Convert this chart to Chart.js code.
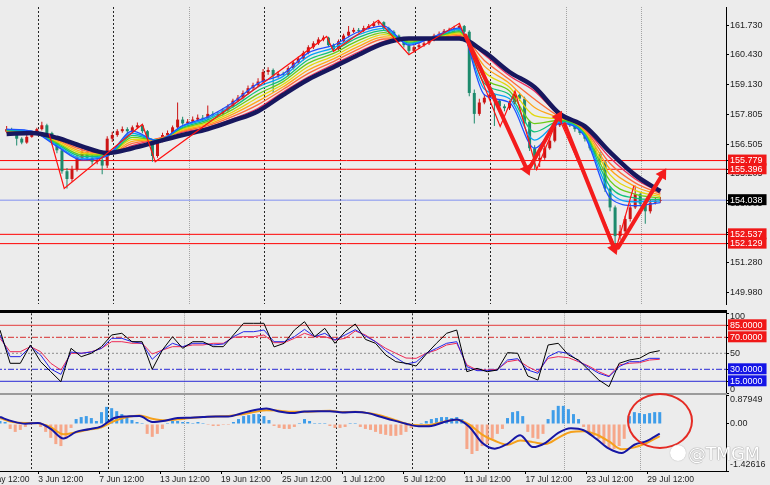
<!DOCTYPE html>
<html>
<head>
<meta charset="utf-8">
<script src="https://cdn.jsdelivr.net/npm/chart.js@4.4.1/dist/chart.umd.min.js"></script>
<style>
  html, body { margin:0; padding:0; }
  body { width:770px; height:485px; background:#ececec; position:relative; overflow:hidden; }
  .pane { position:absolute; left:-40px; width:810px; }
  #pMain { top:0; height:311px; }
  #pRsi { top:310px; height:88px; }
  #pMacd { top:393px; height:92px; }
  .rule { position:absolute; left:0; width:727px; z-index:5; }
  #ruleTop { top:310px; height:3px; background:#000; }
  #ruleMid { top:393px; height:2px; background:#9b9b9b; }
  #ellipse { position:absolute; left:627px; top:393px; width:62px; height:52px; border:2px solid #e52b24; border-radius:50%; z-index:6; }
  #wm { position:absolute; left:688px; top:443px; font:18px 'DejaVu Sans', sans-serif; color:#fff; text-shadow:0 0 1px #8a8a8a, 0 0 1px #8a8a8a; z-index:7; letter-spacing:-0.5px; }
  #wmLogo { position:absolute; left:670px; top:445px; width:16px; height:16px; border-radius:50%; background:#fff; box-shadow:0 0 1px #999; z-index:7; }
</style>
</head>
<body>
<div class="pane" id="pMain"><canvas id="cMain"></canvas></div>
<div class="pane" id="pRsi"><canvas id="cRsi"></canvas></div>
<div class="pane" id="pMacd"><canvas id="cMacd"></canvas></div>
<div class="rule" id="ruleTop"></div>
<div class="rule" id="ruleMid"></div>
<div id="ellipse"></div>
<div id="wmLogo"></div>
<div id="wm">@TMGM</div>
<script>
// ================= DATA =================
// x unit = one H4 bar
const CANDLE_STEP = 2;   // bars per candle sample
const candleOpen = [
157.05,157.16,157.07,156.74,156.57,156.82,156.99,157.16,157.33,156.99,
156.57,156.23,155.31,154.97,155.39,155.90,156.15,155.90,155.73,155.81,
155.56,156.74,156.90,157.07,157.16,157.07,157.24,157.33,157.07,156.65,
155.98,156.65,156.90,156.99,157.24,157.58,157.41,157.49,157.58,157.66,
157.62,157.83,157.79,157.83,157.99,158.16,158.41,158.54,158.75,158.96,
159.09,159.25,159.67,159.76,159.51,159.59,159.55,159.84,160.09,160.26,
160.51,160.76,160.93,161.10,161.18,160.85,160.68,161.02,161.27,161.44,
161.52,161.48,161.60,161.69,161.81,161.86,161.60,161.44,161.27,161.10,
160.85,160.60,160.76,160.85,160.93,161.10,161.27,161.35,161.48,161.52,
161.60,161.69,161.44,158.75,157.83,158.33,158.54,158.67,158.41,158.16,
158.08,158.33,158.67,158.50,157.49,156.32,155.81,155.90,156.32,156.65,
157.33,157.58,157.49,157.33,157.16,156.99,156.74,156.32,156.07,155.73,
154.55,153.72,152.46,152.67,153.21,153.72,154.30,153.88,153.55,153.93,154.01];
const candleHigh = [
157.30,157.22,157.12,156.80,156.90,157.08,157.22,157.49,157.40,157.05,
156.62,156.28,155.45,155.55,156.05,156.35,156.28,156.02,156.00,155.90,
156.85,157.05,157.15,157.28,157.24,157.32,157.45,157.38,157.12,156.70,
156.72,157.00,157.10,157.32,158.33,157.70,157.60,157.72,157.80,157.78,
158.20,157.95,157.92,158.08,158.25,158.50,158.66,158.86,159.08,159.20,
159.40,159.80,159.88,159.82,159.70,159.68,159.92,160.18,160.35,160.60,
160.85,161.02,161.20,161.28,161.22,160.92,161.10,161.35,161.69,161.62,
161.60,161.70,161.78,161.90,161.94,161.90,161.66,161.50,161.32,161.15,
160.92,160.85,160.95,161.02,161.18,161.35,161.45,161.56,161.62,161.70,
161.81,161.74,161.50,158.90,158.50,158.70,158.80,158.75,158.48,158.25,
158.42,158.83,158.76,158.58,157.55,156.45,156.10,156.45,156.78,157.45,
157.78,157.68,157.58,157.40,157.25,157.05,156.82,156.40,156.15,155.80,
154.65,153.80,152.95,153.35,153.90,154.68,154.40,153.95,154.05,154.15,154.18];
const candleLow = [
156.98,156.98,156.44,156.50,156.52,156.78,156.95,157.10,156.92,156.48,
156.10,155.20,154.55,154.85,155.30,155.82,155.78,155.60,155.62,155.18,
155.45,156.60,156.82,157.00,156.98,157.00,157.18,156.98,156.55,155.73,
155.90,156.58,156.82,156.92,157.18,157.35,157.32,157.42,157.52,157.55,
157.55,157.70,157.72,157.76,157.92,158.10,158.35,158.46,158.68,158.88,
159.02,159.18,159.55,158.75,159.42,159.48,159.48,159.78,160.02,160.18,
160.45,160.68,160.86,161.02,160.78,160.58,160.62,160.96,161.20,161.38,
161.40,161.42,161.55,161.62,161.72,161.52,161.36,161.20,161.02,160.75,
160.43,160.52,160.68,160.78,160.86,161.02,161.20,161.28,161.40,161.45,
161.52,161.35,158.60,157.41,157.75,158.25,158.45,157.30,158.05,157.95,
158.00,158.25,158.40,157.40,156.20,155.39,155.50,155.82,156.25,156.58,
157.25,157.38,157.25,157.05,156.90,156.62,156.22,155.95,155.60,154.40,
153.55,151.91,152.30,152.55,153.10,153.65,153.75,153.00,153.45,153.85,153.92];
const candleClose = [
157.16,157.07,156.74,156.57,156.82,156.99,157.16,157.33,156.99,156.57,
156.23,155.31,154.97,155.39,155.90,156.15,155.90,155.73,155.81,155.56,
156.74,156.90,157.07,157.16,157.07,157.24,157.33,157.07,156.65,155.98,
156.65,156.90,156.99,157.24,157.58,157.41,157.49,157.58,157.66,157.62,
157.83,157.79,157.83,157.99,158.16,158.41,158.54,158.75,158.96,159.09,
159.25,159.67,159.76,159.51,159.59,159.55,159.84,160.09,160.26,160.51,
160.76,160.93,161.10,161.18,160.85,160.68,161.02,161.27,161.44,161.52,
161.48,161.60,161.69,161.81,161.86,161.60,161.44,161.27,161.10,160.85,
160.60,160.76,160.85,160.93,161.10,161.27,161.35,161.48,161.52,161.60,
161.69,161.44,158.75,157.83,158.33,158.54,158.67,158.41,158.16,158.08,
158.33,158.67,158.50,157.49,156.32,155.81,155.90,156.32,156.65,157.33,
157.58,157.49,157.33,157.16,156.99,156.74,156.32,156.07,155.73,154.55,
153.72,152.46,152.67,153.21,153.72,154.30,153.88,153.55,153.93,154.01,154.04];

// Moving-average ribbon (fast -> slow) and the slow navy MA, one value every 10 bars
const RIBBON_STEP = 10;
const ribbon1 = [157.16,157.07,156.40,155.81,155.98,157.07,156.65,157.32,157.70,158.33,159.17,159.59,160.51,160.85,161.44,161.69,160.85,161.23,161.60,158.67,158.33,156.32,157.41,156.82,154.14,153.80,153.93];
const ribbon2 = [157.14,157.06,156.45,155.88,155.99,156.98,156.66,157.28,157.63,158.23,159.01,159.48,160.36,160.73,161.31,161.59,160.90,161.22,161.55,158.92,158.50,156.68,157.46,156.87,154.39,153.97,154.00];
const ribbon3 = [157.12,157.05,156.50,155.96,156.00,156.89,156.68,157.24,157.57,158.13,158.86,159.36,160.21,160.61,161.19,161.50,160.94,161.20,161.49,159.17,158.67,157.04,157.51,156.92,154.64,154.13,154.06];
const ribbon4 = [157.10,157.04,156.55,156.03,156.02,156.80,156.69,157.20,157.50,158.03,158.70,159.25,160.06,160.49,161.06,161.40,160.99,161.19,161.44,159.42,158.84,157.40,157.55,156.97,154.89,154.30,154.13];
const ribbon5 = [157.09,157.02,156.59,156.10,156.03,156.71,156.70,157.16,157.44,157.92,158.55,159.13,159.91,160.37,160.93,161.31,161.04,161.18,161.39,159.68,159.00,157.75,157.60,157.01,155.15,154.47,154.19];
const ribbon6 = [157.07,157.01,156.64,156.17,156.04,156.62,156.71,157.11,157.37,157.82,158.39,159.02,159.76,160.25,160.80,161.21,161.09,161.17,161.34,159.93,159.17,158.11,157.65,157.06,155.40,154.64,154.26];
const ribbon7 = [157.05,157.00,156.69,156.25,156.06,156.53,156.73,157.07,157.31,157.72,158.24,158.91,159.61,160.13,160.68,161.12,161.13,161.15,161.28,160.18,159.34,158.47,157.69,157.11,155.65,154.80,154.33];
const ribbon8 = [157.03,156.99,156.74,156.32,156.07,156.44,156.74,157.03,157.24,157.62,158.08,158.79,159.46,160.01,160.55,161.02,161.18,161.14,161.23,160.43,159.51,158.83,157.74,157.16,155.90,154.97,154.39];
const slowMA  = [156.95,156.99,156.78,156.40,156.11,156.32,156.61,156.90,157.16,157.53,157.95,158.67,159.34,159.88,160.43,160.93,161.14,161.14,161.14,160.55,159.67,159.00,157.83,157.28,156.15,155.14,154.43];

// Hand-drawn zigzag and thick arrows (bar, price)
const zigzagBars   = [16.9, 22.9, 54.0, 59.1, 127.3, 130.0, 147.8, 160.0, 180.1, 196.3, 202.2, 210.8, 219.5, 242.4, 249.5];
const zigzagPrices = [156.95,154.55,157.37,155.73,161.23,160.58,161.94,160.43,161.81,157.28,158.83,155.39,157.70,151.91,154.68];
const arrowFromBar   = [182.5, 208.1, 221.9, 243.2];
const arrowFromPrice = [161.27,155.48,157.37,151.95];
const arrowToBar     = [206.9, 219.5, 241.6, 260.9];
const arrowToPrice   = [155.39,157.70,151.91,155.18];

// Horizontal price levels
const redLevels = [155.779, 155.396, 152.537, 152.129];
const bidLevel = 154.038;

// Price axis ticks and tags
const priceTicks = [161.73,160.43,159.13,157.805,156.505,155.205,153.905,152.605,151.28,149.98];
const priceTickLabels = ['161.730','160.430','159.130','157.805','156.505','155.205','153.905','152.605','151.280','149.980'];
const priceTags = [155.779,155.396,154.038,152.537,152.129];
const priceTagLabels = ['155.779','155.396','154.038','152.537','152.129'];
const priceTagKinds = ['level','level','bid','level','level'];

// RSI panel (one value every 4 bars)
const RSI_STEP = 4;
const rsiFast = [79,37.5,37.5,60.4,39.5,27,14.5,56.2,45.8,50,58.3,72.9,75,64.5,64.5,30,54.1,70.8,56.2,64.5,64.5,58.3,58.3,72.9,87.5,87.5,87.5,58,62.5,79,89.5,70.8,81.2,62.5,77,86.6,67.4,62.5,47.9,39.5,37.5,34.1,49.1,62.5,75,79.1,27,31.2,27,29.1,50.8,50,21.6,16.6,60.4,62.5,47.9,41.6,29.1,16.6,8.3,37.5,41.6,43.7,50.8,53.3];
const rsiMid = [72.9,45.8,45.8,58.3,47.9,30.4,23.7,51.6,50,51.6,56.2,68.7,68.7,64.5,62.5,42.5,54.1,62.5,58.3,62.5,62.5,60.4,61.6,70.8,77,77,79.1,64.5,64.5,70.8,79.9,70.8,75,66.6,72.9,79.5,71.6,64.5,53.3,44.5,36.6,39.1,50,56.2,62.5,64.5,33.3,28.3,28.3,29.1,41.6,43.3,29.1,25,45.8,52,50,40.4,32.5,25,20.8,33.3,39.5,39.5,43.7,43.7];
const rsiSlow = [68.7,52,52,58.3,52,37.5,29.1,50,50,52,56.2,64.5,64.5,62.5,62.5,49.1,54.1,58.3,58.3,60.4,60.4,62.5,62.5,70,70.8,70.8,72.9,63.3,63.3,68.7,75,70.8,70.8,66.6,68.7,77.9,72.9,64.5,56.2,50,44.1,43.7,50,54.1,60.4,62.5,35.4,29.1,29.1,30,39.5,41.6,33.3,27,43.7,45.8,44.5,39.5,34.1,27,21.6,35.4,37.5,38.3,41.6,42.5];
const rsiLevels = [85, 70, 50, 30, 15];
const rsiTicks = [100, 85, 70, 50, 30, 15, 0];
const rsiTickLabels = ['100','85.0000','70.0000','50','30.0000','15.0000','0'];

// MACD panel
const MACD_STEP = 5;
const macdMain = [0.21,0.08,0.01,0.03,-0.15,-0.44,-0.24,-0.16,-0.07,0.18,0.23,0.24,0.06,0.10,0.18,0.19,0.21,0.23,0.23,0.32,0.42,0.47,0.38,0.33,0.38,0.39,0.39,0.35,0.36,0.33,0.22,0.11,0.01,-0.07,-0.06,0.06,0.14,-0.09,-0.57,-0.75,-0.60,-0.34,-0.70,-0.57,-0.27,-0.13,-0.19,-0.45,-0.75,-0.88,-0.63,-0.51,-0.29];
const macdSignal = [0.18,0.06,0.03,0.02,-0.10,-0.31,-0.25,-0.17,-0.10,0.09,0.21,0.26,0.16,0.11,0.14,0.18,0.21,0.23,0.24,0.29,0.36,0.42,0.40,0.37,0.37,0.39,0.40,0.36,0.37,0.33,0.26,0.14,0.01,-0.04,-0.02,0.07,0.13,-0.02,-0.32,-0.51,-0.63,-0.50,-0.55,-0.61,-0.42,-0.24,-0.22,-0.32,-0.53,-0.77,-0.71,-0.57,-0.37];
const HIST_STEP = 2;
const macdHist = [
0.09,0.06,-0.15,-0.24,-0.18,-0.09,-0.03,0,-0.09,-0.24,
-0.42,-0.61,-0.67,-0.45,-0.12,0.15,0.21,0.24,0.18,0.09,
0.36,0.52,0.48,0.39,0.30,0.24,0.12,0.06,0.03,-0.30,
-0.39,-0.30,-0.15,0.03,0.09,0.09,0.06,0.06,0.03,0.06,
0.03,-0.03,-0.06,-0.06,-0.03,-0.03,0.06,0.15,0.24,0.27,
0.30,0.30,0.24,0.12,-0.06,-0.12,-0.15,-0.15,-0.09,0.03,
0.15,0.09,0.03,0.03,0.03,-0.06,-0.12,-0.12,-0.09,0.03,
0.03,-0.09,-0.15,-0.18,-0.24,-0.30,-0.33,-0.36,-0.36,-0.33,
-0.24,-0.12,-0.03,0.03,0.09,0.15,0.18,0.21,0.21,0.18,
0.21,0.15,-0.76,-0.91,-0.82,-0.67,-0.61,-0.45,-0.30,-0.15,
0.18,0.36,0.39,0.24,-0.24,-0.42,-0.45,-0.30,0.15,0.42,
0.55,0.55,0.45,0.30,0.15,-0.09,-0.24,-0.36,-0.45,-0.61,
-0.73,-0.76,-0.67,-0.45,0.24,0.36,0.33,0.30,0.33,0.36,0.36];
const macdTicks = [0.87949, 0, -1.42616];
const macdTickLabels = ['0.87949','0.00','-1.42616'];

// Time axis labels
const timeLabels = ['28 May 12:00','3 Jun 12:00','7 Jun 12:00','13 Jun 12:00','19 Jun 12:00','25 Jun 12:00','1 Jul 12:00','5 Jul 12:00','11 Jul 12:00','17 Jul 12:00','23 Jul 12:00','29 Jul 12:00'];

// ================= CONFIG =================
const FONT = "'Liberation Sans',Arial,sans-serif";
const FONT_SIZE = 8.6;
const X_MIN = -15.764, X_MAX = 286.11;           // visible bar window
const Y_MAX = 162.527, Y_MIN = 149.476;           // visible price window
const TIME_FIRST = -8.9, TIME_SPACING = 24;       // 4 trading days between labels
const GRID_FIRST = 12.6, GRID_SPACING = 30, GRID_COUNT = 9;
const GRID_GRAY = [2, 7, 8];
const UP = '#cc1414', DOWN = '#1d8a6c';
const RIBBON_COLORS = ['#1f50ff','#0aa2f5','#10c27a','#6ccc16','#e2d80c','#ffa519','#ff6a3a','#f0305e'];

const TIME_BARS = timeLabels.map((_, i) => TIME_FIRST + TIME_SPACING * i);
const GRID_BARS = Array.from({length: GRID_COUNT}, (_, i) => GRID_FIRST + GRID_SPACING * i);

const pts = (arr, step) => arr.map((v, i) => ({x: i * step, y: v}));
const flat = v => [{x: X_MIN, y: v}, {x: X_MAX, y: v}];

function gridAxis() {
  return {
    type: 'linear', position: 'bottom', min: X_MIN, max: X_MAX, offset: false,
    afterBuildTicks: s => { s.ticks = GRID_BARS.map(v => ({value: v})); },
    afterFit: s => { s.height = 0; s.paddingLeft = 0; s.paddingRight = 0; },
    ticks: {display: false},
    grid: {display: true, drawTicks: false, offset: false, lineWidth: 1,
      color: c => GRID_GRAY.includes(c.index) ? '#a3a3a3' : '#262626'},
    border: {display: false, dash: c => GRID_GRAY.includes(c.index) ? [1, 1] : [2, 2]}
  };
}

function timeAxis() {
  return {
    type: 'linear', axis: 'x', position: 'bottom', min: X_MIN, max: X_MAX, offset: false,
    afterBuildTicks: s => { s.ticks = TIME_BARS.map(v => ({value: v})); },
    afterFit: s => { s.height = 14; s.paddingLeft = 0; s.paddingRight = 0; },
    grid: {display: true, drawOnChartArea: false, drawTicks: true, tickLength: 3, color: '#000', offset: false},
    border: {display: true, color: '#000', width: 1},
    ticks: {autoSkip: false, maxRotation: 0, minRotation: 0, align: 'start', padding: 1, color: '#1e1e1e',
      font: {family: FONT, size: FONT_SIZE, lineHeight: 1}, callback: (v, i) => timeLabels[i]}
  };
}

function rightAxis(min, max, values, labels, tagColor, labelFn, lhFn) {
  return {
    type: 'linear', position: 'right', min, max,
    afterBuildTicks: s => { s.ticks = values.map(v => ({value: v})); },
    afterFit: s => { s.width = 44; s.paddingTop = 0; s.paddingBottom = 0; },
    grid: {display: true, drawOnChartArea: false, drawTicks: true, tickLength: 3, tickColor: '#000', color: '#000'},
    border: {display: true, color: '#000', width: 1},
    ticks: {
      autoSkip: false, padding: 1,
      callback: (v, i) => labelFn ? labelFn(i, labels[i]) : labels[i],
      color: c => tagColor(c.index) ? '#ffffff' : '#1e1e1e',
      showLabelBackdrop: c => !!tagColor(c.index),
      backdropColor: c => tagColor(c.index) || 'rgba(0,0,0,0)',
      backdropPadding: {top: 1.5, bottom: 0.5, left: 2, right: 4},
      font: c => ({family: FONT, size: FONT_SIZE + 0.4, lineHeight: lhFn ? lhFn(c.index) : 1})
    }
  };
}

const baseOptions = (layoutPad) => ({
  animation: false, responsive: true, maintainAspectRatio: false, events: [],
  layout: {padding: layoutPad},
  plugins: {legend: {display: false}, tooltip: {enabled: false}},
  elements: {point: {radius: 0}, line: {borderWidth: 1}}
});

function arrowAngle(ctx) {
  const d = ctx.dataset.data, ch = ctx.chart;
  const xs = ch.scales.x, ys = ch.scales.y;
  const dx = xs.getPixelForValue(d[1].x) - xs.getPixelForValue(d[0].x);
  const dy = ys.getPixelForValue(d[1].y) - ys.getPixelForValue(d[0].y);
  return Math.atan2(dx, -dy) * 180 / Math.PI;
}

// ---------- main price panel ----------
const mainDs = [];
redLevels.forEach(v => mainDs.push({type: 'line', data: flat(v), borderColor: '#ff0000', borderWidth: 1, pointRadius: 0, order: 40}));
mainDs.push({type: 'line', data: flat(bidLevel), borderColor: '#8090f0', borderWidth: 1, pointRadius: 0, order: 40});
const candleX = candleClose.map((_, i) => i * CANDLE_STEP);
const candleCol = candleClose.map((c, i) => c >= candleOpen[i] ? UP : DOWN);
mainDs.push({type: 'bar', data: candleX.map((x, i) => ({x, y: [candleLow[i], candleHigh[i]]})),
  backgroundColor: candleCol, barThickness: 1, grouped: false, inflateAmount: 0, order: 39});
mainDs.push({type: 'bar', data: candleX.map((x, i) => ({x, y: [candleOpen[i], candleClose[i]]})),
  backgroundColor: candleCol, barThickness: 3, grouped: false, inflateAmount: 0, order: 38});
[ribbon1, ribbon2, ribbon3, ribbon4, ribbon5, ribbon6, ribbon7, ribbon8].forEach((r, j) => mainDs.push({
  type: 'line', data: pts(r, RIBBON_STEP), borderColor: RIBBON_COLORS[j], borderWidth: 1.3, pointRadius: 0,
  cubicInterpolationMode: 'monotone', order: 20 + j}));
mainDs.push({type: 'line', data: pts(slowMA, RIBBON_STEP), borderColor: '#17175e', borderWidth: 4.5, pointRadius: 0,
  cubicInterpolationMode: 'monotone', order: 10});
mainDs.push({type: 'line', data: zigzagBars.map((b, i) => ({x: b, y: zigzagPrices[i]})), borderColor: '#ff1010',
  borderWidth: 1.2, pointRadius: 0, order: 5});
arrowFromBar.forEach((_, j) => mainDs.push({
  type: 'line', data: [{x: arrowFromBar[j], y: arrowFromPrice[j]}, {x: arrowToBar[j], y: arrowToPrice[j]}],
  borderColor: '#f41c1c', borderWidth: 4, borderCapStyle: 'round',
  pointRadius: [0, 7], pointStyle: 'triangle', pointBackgroundColor: '#f41c1c', pointBorderColor: '#f41c1c',
  pointBorderWidth: 0, pointRotation: arrowAngle, order: 1}));

const mainTickValues = priceTicks.concat(priceTags);
const mainTickLabels = priceTickLabels.concat(priceTagLabels);
const mainTag = i => i < priceTicks.length ? null : (priceTagKinds[i - priceTicks.length] === 'bid' ? '#000000' : '#f01818');

new Chart(document.getElementById('cMain'), {
  type: 'line',
  data: {datasets: mainDs},
  options: Object.assign(baseOptions(0), {
    scales: {x: gridAxis(), y: rightAxis(Y_MIN, Y_MAX, mainTickValues, mainTickLabels, mainTag)}
  })
});

// ---------- RSI panel ----------
const rsiDs = [];
const rsiLevelStyle = {
  85: {c: '#e43a3a', d: []}, 70: {c: '#d83030', d: [6, 2, 2, 2]}, 50: {c: '#8c8c8c', d: [2, 2]},
  30: {c: '#2a2ad6', d: [6, 2, 2, 2]}, 15: {c: '#2a2ad6', d: []}
};
rsiLevels.forEach(v => rsiDs.push({type: 'line', data: flat(v), borderColor: rsiLevelStyle[v].c, borderDash: rsiLevelStyle[v].d,
  borderWidth: 1, pointRadius: 0, order: 20}));
rsiDs.push({type: 'line', data: pts(rsiSlow, RSI_STEP), borderColor: '#ee2a55', borderWidth: 1, pointRadius: 0, order: 4});
rsiDs.push({type: 'line', data: pts(rsiMid, RSI_STEP), borderColor: '#2424e8', borderWidth: 1, pointRadius: 0, order: 3});
rsiDs.push({type: 'line', data: pts(rsiFast, RSI_STEP), borderColor: '#000000', borderWidth: 1, pointRadius: 0, order: 2});
const rsiTag = i => ({1: '#f01818', 2: '#f01818', 4: '#1414e6', 5: '#1414e6'})[i] || null;
new Chart(document.getElementById('cRsi'), {
  type: 'line',
  data: {datasets: rsiDs},
  options: Object.assign(baseOptions({top: 3.3, bottom: 4.7, left: 0, right: 0}), {
    scales: {x: gridAxis(), y: rightAxis(0, 100, rsiTicks, rsiTickLabels, rsiTag,
      (i, l) => i === 0 ? ['', l] : (i === rsiTicks.length - 1 ? [l, ''] : l),
      i => (i === 0 || i === rsiTicks.length - 1) ? 0.75 : 1)}
  })
});

// ---------- MACD panel ----------
const macdDs = [];
macdDs.push({type: 'bar', data: pts(macdHist, HIST_STEP), backgroundColor: macdHist.map(v => v >= 0 ? '#3f9de9' : '#f6a78a'),
  barThickness: 3, grouped: false, inflateAmount: 0, order: 20});
macdDs.push({type: 'line', data: pts(macdSignal, MACD_STEP), borderColor: '#f5a11c', borderWidth: 2, pointRadius: 0,
  cubicInterpolationMode: 'monotone', order: 3});
macdDs.push({type: 'line', data: pts(macdMain, MACD_STEP), borderColor: '#1616a4', borderWidth: 2, pointRadius: 0,
  cubicInterpolationMode: 'monotone', order: 2});
new Chart(document.getElementById('cMacd'), {
  type: 'line',
  data: {datasets: macdDs},
  options: Object.assign(baseOptions({top: 2, bottom: 0, left: 0, right: 0}), {
    scales: {x: gridAxis(), xl: timeAxis(), y: rightAxis(-1.42616, 0.87949, macdTicks, macdTickLabels, () => null,
      (i, l) => i === 0 ? ['', l] : (i === macdTicks.length - 1 ? [l, ''] : l),
      i => i === 0 ? 1.1 : (i === macdTicks.length - 1 ? 1.5 : 1))}
  })
});
</script>
</body>
</html>
